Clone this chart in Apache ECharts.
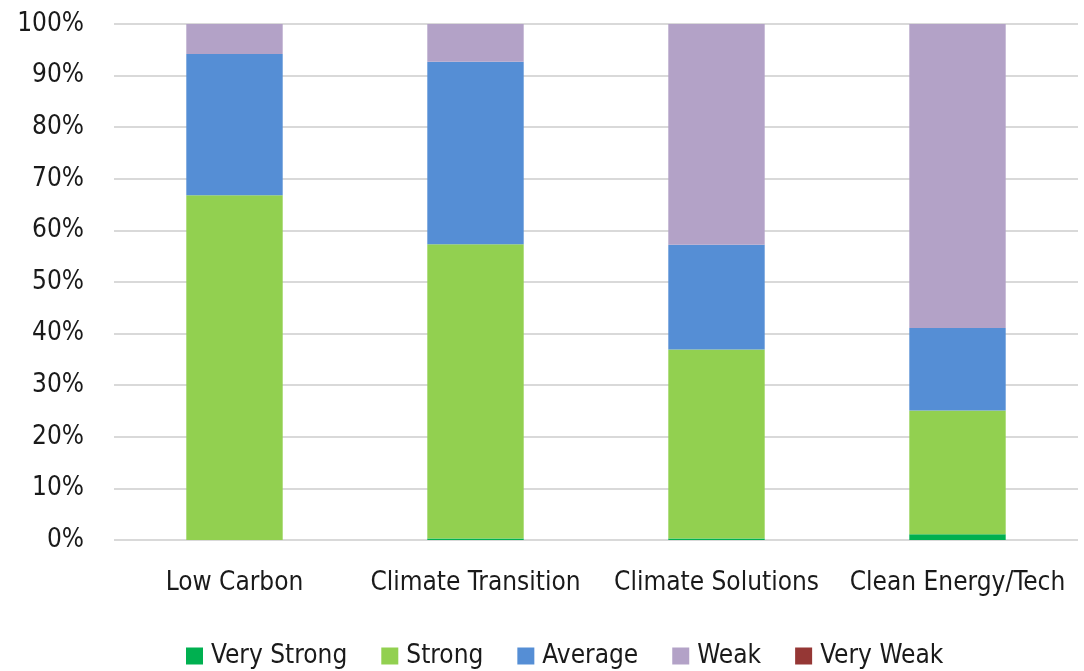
<!DOCTYPE html>
<html>
<head>
<meta charset="utf-8">
<script src="https://cdn.jsdelivr.net/npm/echarts@6/dist/echarts.min.js"></script>
<style>
  html, body { margin: 0; padding: 0; background: #ffffff; }
  #chart { width: 1084px; height: 671px; }
</style>
</head>
<body>
<div id="chart"></div>
<script>
var categories = ['Low Carbon', 'Climate Transition', 'Climate Solutions', 'Clean Energy/Tech'];
var veryStrong = [0, 0.3, 0.3, 1.1];
var strong = [66.8, 57.0, 36.6, 24.0];
var average = [27.4, 35.4, 20.3, 16.0];
var weak = [5.8, 7.3, 42.8, 58.9];
var veryWeak = [0, 0, 0, 0];
var seriesNames = ['Very Strong', 'Strong', 'Average', 'Weak', 'Very Weak'];
var seriesColors = ['#00b050', '#92d050', '#558ed5', '#b3a2c7', '#953735'];
var yTicks = { min: 0, max: 100, interval: 10 };

var FONT = '"Liberation Sans Narrow", "DejaVu Sans Condensed", "Roboto", sans-serif';
var FS = 26;
var dataSets = [veryStrong, strong, average, weak, veryWeak];

var chart = echarts.init(document.getElementById('chart'), null, { renderer: 'canvas' });
chart.setOption({
  animation: false,
  backgroundColor: '#ffffff',
  grid: { left: 114, right: 6, top: 24, bottom: 131, containLabel: false },
  legend: {
    data: seriesNames,
    top: 643,
    left: 186,
    padding: 0,
    icon: 'rect',
    itemWidth: 17,
    itemHeight: 17,
    itemGap: 34,
    textStyle: { fontFamily: FONT, fontSize: FS, color: '#1a1a1a', padding: [0, 0, 0, 3] }
  },
  xAxis: {
    type: 'category',
    data: categories,
    axisLine: { show: false },
    axisTick: { show: false },
    axisLabel: { interval: 0, fontFamily: FONT, fontSize: FS, color: '#1a1a1a', margin: 30 }
  },
  yAxis: {
    type: 'value',
    min: yTicks.min,
    max: yTicks.max,
    interval: yTicks.interval,
    axisLine: { show: false },
    axisTick: { show: false },
    splitLine: { lineStyle: { color: '#d9d9d9', width: 2 } },
    axisLabel: {
      fontFamily: FONT, fontSize: FS, color: '#1a1a1a', margin: 30,
      formatter: function (v) { return v + '%'; }
    }
  },
  series: seriesNames.map(function (name, i) {
    return {
      name: name,
      type: 'bar',
      stack: 'total',
      barWidth: '40%',
      itemStyle: { color: seriesColors[i] },
      data: dataSets[i]
    };
  })
});
</script>
</body>
</html>
